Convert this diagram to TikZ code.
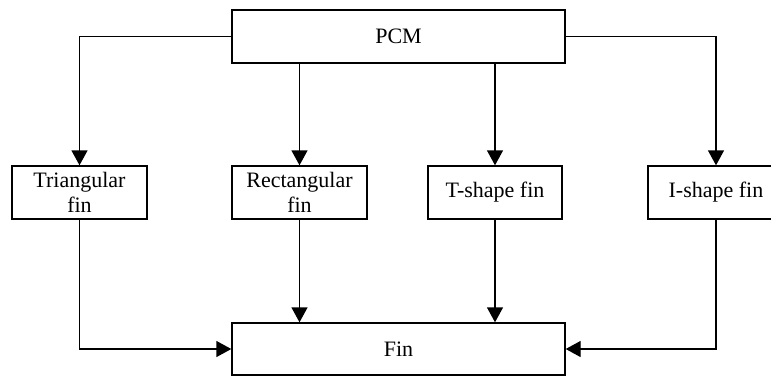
\documentclass[tikz,border=0pt]{standalone}
\usepackage{fontspec}
\setmainfont{Liberation Serif}
\usetikzlibrary{arrows.meta}
\begin{document}
\begin{tikzpicture}[x=1pt,y=-1pt,
  box/.style={draw,line width=1.4pt,inner sep=0pt,align=center,font=\fontsize{22}{25}\selectfont},
  conn/.style={line width=1.4pt,-{Triangle[length=15pt,width=16pt]}}]
\useasboundingbox (0,0) rectangle (771,376);
\clip (0,0) rectangle (771,376);
\fill[white] (0,0) rectangle (771,376);
\node[box,minimum width=333pt,minimum height=53pt] (PCM) at (398.5,36.5) {PCM};
\node[box,minimum width=135pt,minimum height=53pt] (Tri) at (79.5,192.5) {Triangular\\fin};
\node[box,minimum width=135pt,minimum height=53pt] (Rect) at (299.5,192.5) {Rectangular\\fin};
\node[box,minimum width=134pt,minimum height=53pt] (T) at (495,192.5) {T-shape fin};
\node[box,minimum width=136pt,minimum height=53pt] (I) at (716,192.5) {I-shape fin};
\node[box,minimum width=333pt,minimum height=52pt] (Fin) at (398.5,349) {Fin};
\draw[conn] (PCM.west) -| (Tri.north);
\draw[conn] (Rect.north |- PCM.south) -- (Rect.north);
\draw[conn] (T.north |- PCM.south) -- (T.north);
\draw[conn] (PCM.east) -| (I.north);
\draw[conn] (Tri.south) |- (Fin.west);
\draw[conn] (Rect.south) -- (Rect.south |- Fin.north);
\draw[conn] (T.south) -- (T.south |- Fin.north);
\draw[conn] (I.south) |- (Fin.east);
\end{tikzpicture}
\end{document}
